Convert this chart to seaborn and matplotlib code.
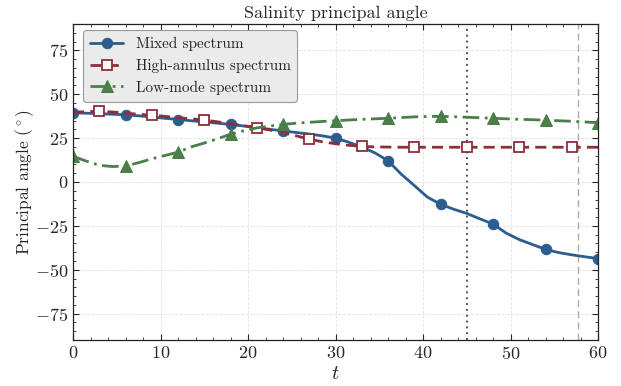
import numpy as np
import pandas as pd
import matplotlib
matplotlib.use("Agg")
import matplotlib.pyplot as plt
from matplotlib.ticker import MultipleLocator
import seaborn as sns

# Time samples (every 1.5 time units)
t = [i * 1.5 for i in range(41)]

mixed = [39.4, 39.2, 38.9, 38.6, 38.3, 37.7, 37.0, 36.3, 35.6, 34.9,
         34.2, 33.5, 32.8, 31.9, 31.0, 30.0, 29.1, 28.2, 27.3, 26.3,
         25.0, 22.7, 19.9, 16.6, 12.1, 4.5, -2.0, -8.6, -12.7, -15.5,
         -17.9, -21.0, -23.9, -29.1, -32.8, -35.6, -38.4, -40.2, -41.5, -42.6,
         -43.6]

high_annulus = [39.7, 40.1, 40.3, 39.9, 39.2, 38.6, 38.0, 37.4, 36.6, 36.0,
                35.3, 34.3, 33.2, 32.1, 31.0, 29.6, 28.2, 26.3, 24.4, 22.9,
                21.8, 20.9, 20.3, 20.0, 19.9, 19.8, 19.8, 19.8, 19.8, 19.8,
                19.8, 19.8, 19.8, 19.8, 19.8, 19.8, 19.8, 19.8, 19.8, 19.8,
                19.8]

low_mode = [14.7, 11.9, 9.5, 8.8, 9.1, 11.0, 13.2, 15.1, 17.0, 20.0,
            22.2, 24.6, 27.2, 29.2, 30.8, 31.9, 32.8, 33.5, 34.0, 34.5,
            34.9, 35.3, 35.7, 36.0, 36.3, 36.7, 37.1, 37.3, 37.4, 37.2,
            36.9, 36.6, 36.3, 36.0, 35.7, 35.5, 35.2, 34.9, 34.6, 34.2,
            33.8]

labels = ["Mixed spectrum", "High-annulus spectrum", "Low-mode spectrum"]
t_event = 45.0
t_final = 57.7

sns.set_style("ticks")
plt.rcParams.update({
    "font.family": "serif",
    "font.serif": ["cmr10"],
    "mathtext.fontset": "cm",
    "axes.formatter.use_mathtext": True,
    "axes.unicode_minus": True,
    "xtick.direction": "in",
    "ytick.direction": "in",
    "xtick.top": True,
    "ytick.right": True,
})

df = pd.DataFrame({"t": t, "mixed": mixed, "high": high_annulus, "low": low_mode})

fig = plt.figure(figsize=(6.21, 3.86), dpi=100)
ax = fig.add_axes([0.1176, 0.1192, 0.8454, 0.8186])

blue, red, green = "#2c5d8f", "#8e2e3b", "#4a7f48"

def every(offset):
    return [i for i, v in enumerate(t) if abs((v - offset) % 6) < 1e-6]

sns.lineplot(data=df, x="t", y="mixed", ax=ax, color=blue, lw=2.0,
             marker="o", markersize=7.5, markeredgecolor=blue,
             markevery=every(0), label=labels[0])
sns.lineplot(data=df, x="t", y="high", ax=ax, color=red, lw=2.0,
             linestyle=(0, (4, 2.2)), marker="s", markersize=7,
             markerfacecolor="white", markeredgecolor=red, markeredgewidth=1.3,
             markevery=every(3), label=labels[1])
sns.lineplot(data=df, x="t", y="low", ax=ax, color=green, lw=2.0,
             linestyle=(0, (6, 2, 1, 2)), marker="^", markersize=8,
             markeredgecolor=green, markevery=every(6), label=labels[2])

ax.axvline(t_event, color="#555555", lw=1.4, linestyle=(0, (1, 2)), zorder=1)
ax.axvline(t_final, color="#aaaaaa", lw=1.0, linestyle=(0, (5, 3)), zorder=1)

ax.set_xlim(0, 60)
ax.set_ylim(-90, 90)
ax.xaxis.set_major_locator(MultipleLocator(10))
ax.xaxis.set_minor_locator(MultipleLocator(2))
ax.yaxis.set_major_locator(MultipleLocator(25))
ax.yaxis.set_minor_locator(MultipleLocator(5))
ax.tick_params(which="major", length=4, width=0.8, labelsize=13)
ax.tick_params(which="minor", length=2, width=0.6)
ax.grid(True, which="major", color="#e2e2e2", linestyle="--", lw=0.6)
ax.set_axisbelow(True)

for s in ax.spines.values():
    s.set_linewidth(0.9)
    s.set_color("#222222")

ax.set_xlabel("$t$", fontsize=15, labelpad=2)
ax.set_ylabel("Principal angle $(^\\circ)$", fontsize=12.5, labelpad=-1)
ax.set_title("Salinity principal angle", fontsize=13, pad=4)

leg = ax.legend(loc="upper left", fontsize=11, frameon=True, fancybox=True,
                facecolor="#ebebeb", edgecolor="#999999", framealpha=1.0,
                handlelength=2.2, borderpad=0.45, labelspacing=0.5,
                borderaxespad=0.3, bbox_to_anchor=(0.01, 0.995))
leg.get_frame().set_linewidth(0.8)

fig.savefig("out.png", dpi=100)
